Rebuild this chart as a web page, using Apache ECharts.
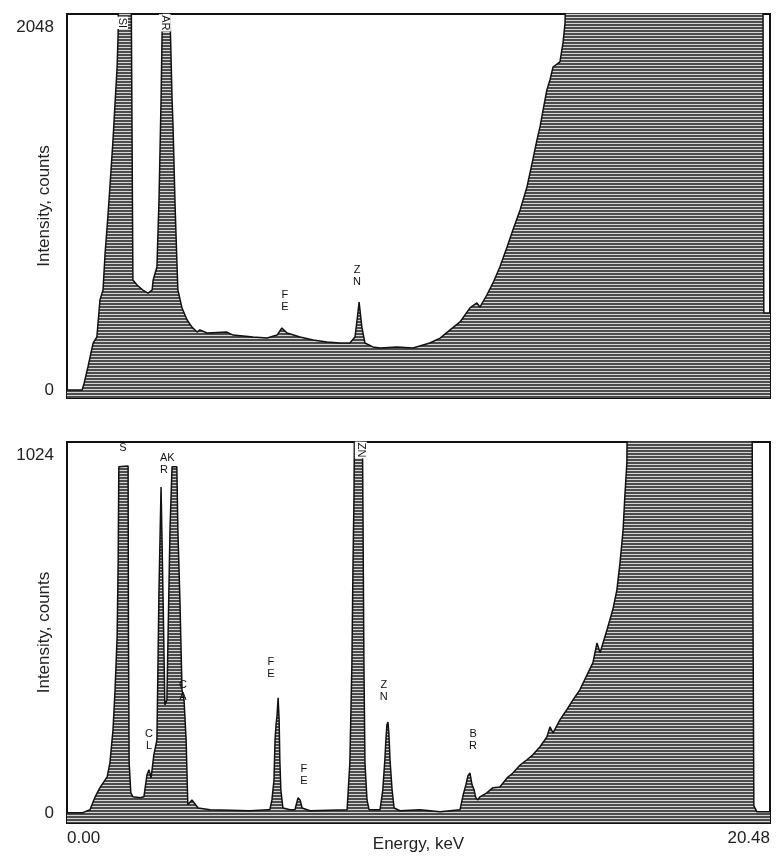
<!DOCTYPE html>
<html>
<head>
<meta charset="utf-8">
<title>XRF spectra</title>
<script src="https://cdn.jsdelivr.net/npm/echarts@6.0.0/dist/echarts.min.js"></script>
<style>
  html, body { margin: 0; padding: 0; background: #fff; }
  #chart { width: 781px; height: 858px; }
</style>
</head>
<body>
<div id="chart"></div>
<script>
// energy axis, keV
const energyTicks = [0, 20.48];

// upper spectrum (0 - 2048 counts)
const topEnergy = [
  0.00, 0.44, 0.50, 0.61, 0.76, 0.87, 0.96, 1.05, 1.11, 1.19,
  1.25, 1.34, 1.40, 1.46, 1.49, 1.51, 1.86, 1.92, 2.04, 2.21,
  2.36, 2.48, 2.51, 2.62, 2.68, 2.74, 2.77, 2.80, 2.94, 3.06,
  3.09, 3.15, 3.20, 3.23, 3.35, 3.50, 3.64, 3.79, 3.87, 4.08,
  4.66, 4.84, 5.42, 5.83, 6.12, 6.26, 6.41, 6.79, 7.17, 7.57,
  7.95, 8.24, 8.39, 8.45, 8.51, 8.59, 8.68, 8.91, 9.12, 9.61,
  10.08, 10.57, 10.87, 11.16, 11.45, 11.74, 11.94, 12.03, 12.23, 12.41,
  12.61, 12.82, 12.99, 13.20, 13.40, 13.57, 13.69, 13.78, 13.87, 13.98,
  14.07, 14.16, 14.36, 14.45, 14.51, 14.56, 20.27, 20.30, 20.48
];
const topCounts = [
  0, 0, 39, 130, 265, 299, 508, 564, 773, 976,
  1145, 1410, 1619, 1822, 2014, 2600, 2600, 621, 592, 564,
  547, 564, 621, 694, 1072, 1636, 2014, 2600, 2600, 1647,
  1484, 1032, 733, 564, 463, 395, 355, 327, 339, 322,
  327, 310, 299, 293, 310, 350, 322, 299, 282, 271,
  265, 265, 299, 395, 496, 355, 265, 243, 237, 243,
  237, 265, 293, 339, 384, 463, 491, 468, 536, 604,
  694, 807, 903, 1016, 1145, 1298, 1410, 1484, 1580, 1693,
  1749, 1822, 1851, 1958, 2071, 2600, 2600, 434, 434
];
const topTicks = [0, 2048];
const topPeaks = ['SI', 'AR', 'F\nE', 'Z\nN'];
const topPeakEnergy = [1.60, 2.85, 6.35, 8.45];
const topPeakCounts = [2071, 2071, 502, 643];

// lower spectrum (0 - 1024 counts)
const bottomEnergy = [
  0.00, 0.44, 0.47, 0.67, 0.82, 0.96, 1.17, 1.25, 1.34, 1.40,
  1.46, 1.49, 1.51, 1.78, 1.79, 1.81, 1.86, 1.92, 2.13, 2.24,
  2.33, 2.39, 2.45, 2.53, 2.62, 2.68, 2.74, 2.77, 2.80, 2.85,
  2.91, 3.00, 3.06, 3.20, 3.23, 3.29, 3.35, 3.41, 3.47, 3.52,
  3.64, 3.82, 4.17, 5.33, 5.85, 5.91, 5.97, 6.03, 6.06, 6.09,
  6.12, 6.15, 6.18, 6.20, 6.23, 6.29, 6.50, 6.64, 6.73, 6.79,
  6.85, 7.08, 8.16, 8.21, 8.24, 8.30, 8.33, 8.36, 8.39, 8.59,
  8.62, 8.65, 8.68, 8.74, 8.80, 9.12, 9.20, 9.26, 9.29, 9.32,
  9.35, 9.38, 9.41, 9.47, 9.53, 9.70, 10.28, 10.87, 11.45, 11.54,
  11.62, 11.68, 11.74, 11.80, 11.86, 11.91, 11.97, 12.03, 12.23, 12.41,
  12.61, 12.82, 12.99, 13.20, 13.40, 13.57, 13.78, 13.98, 14.07, 14.16,
  14.36, 14.56, 14.74, 14.94, 15.15, 15.32, 15.44, 15.53, 15.73, 15.90,
  16.02, 16.11, 16.20, 16.25, 16.31, 16.34, 19.95, 20.01, 20.10, 20.48
];
const bottomCounts = [
  0, 0, 0, 9, 46, 72, 103, 143, 237, 352,
  503, 715, 990, 992, 523, 143, 57, 46, 43, 46,
  109, 123, 100, 166, 209, 638, 932, 932, 609, 309,
  323, 809, 990, 990, 809, 609, 352, 323, 209, 23,
  37, 14, 9, 6, 9, 9, 37, 94, 209, 252,
  280, 329, 266, 152, 66, 14, 9, 9, 43, 37,
  14, 6, 9, 94, 143, 429, 695, 904, 1300, 1300,
  895, 429, 143, 37, 9, 9, 66, 152, 209, 252,
  260, 223, 152, 66, 14, 6, 9, 3, 9, 51,
  80, 106, 114, 80, 66, 43, 37, 46, 57, 72,
  74, 100, 114, 137, 152, 166, 189, 217, 246, 229,
  266, 295, 323, 352, 395, 429, 486, 458, 523, 581,
  638, 715, 809, 904, 1001, 1300, 1300, 20, 3, 3
];
const bottomTicks = [0, 1024];
const bottomPeaks = ['S', 'AK\nR', 'C\nL', 'C\nA', 'F\nE', 'F\nE', 'ZN', 'Z\nN', 'B\nR'];
const bottomPeakEnergy = [1.63, 2.71, 2.39, 3.38, 5.94, 6.90, 8.56, 9.23, 11.83];
const bottomPeakCounts = [1044, 998, 209, 349, 415, 109, 1038, 349, 209];

const font = '"Liberation Sans", Arial, sans-serif';
const ink = '#111';

// grey fill with horizontal streaks, like the plotter shading
const makeHatch = () => {
    const c = document.createElement('canvas');
    c.width = 8;
    c.height = 3;
    const ctx = c.getContext('2d');
    ctx.fillStyle = '#4c4c4c';
    ctx.fillRect(0, 0, 8, 2);
    ctx.fillStyle = '#d6d6d6';
    ctx.fillRect(0, 2, 8, 1);
    return c;
};
const hatch = makeHatch();

const peakMarks = (names, es, cs) => names.map((n, i) => {
    let item = { name: n, coord: [es[i], cs[i]] };
    if (n.indexOf('\n') < 0 && n.length > 1) {
        item.label = { rotate: -90, backgroundColor: '#fff', padding: [0, 1] };
    }
    if (n === 'AK\nR') item.label = { align: 'left' };
    return item;
});

const spectrum = (idx, es, cs, names, pe, pc) => ({
    type: 'line',
    xAxisIndex: idx,
    yAxisIndex: idx,
    data: es.map((e, i) => [e, cs[i]]),
    symbol: 'none',
    clip: true,
    lineStyle: { color: ink, width: 1.5 },
    areaStyle: { origin: 'start', color: { image: hatch, repeat: 'repeat' }, opacity: 1 },
    markPoint: {
        symbol: 'rect',
        symbolSize: 1,
        itemStyle: { color: 'rgba(0,0,0,0)' },
        label: {
            show: true,
            position: 'inside',
            formatter: '{b}',
            color: ink,
            fontFamily: font,
            fontSize: 11,
            lineHeight: 12
        },
        data: peakMarks(names, pe, pc)
    }
});

const yAxisFor = (idx, min, max, ticks) => ({
    gridIndex: idx,
    type: 'value',
    min: min,
    max: max,
    name: 'Intensity, counts',
    nameLocation: 'middle',
    nameGap: 14,
    nameMoveOverlap: false,
    nameTextStyle: { color: '#222', fontFamily: font, fontSize: 17 },
    axisLine: { show: false },
    axisTick: { show: false },
    splitLine: { show: false },
    axisLabel: {
        customValues: ticks,
        formatter: v => String(v),
        margin: 13,
        color: '#222',
        fontFamily: font,
        fontSize: 17
    }
});

const myChart = echarts.init(document.getElementById('chart'));

let option = {
    animation: false,
    backgroundColor: '#fff',
    grid: [
        { left: 67, top: 14, width: 703, height: 384, outerBoundsMode: 'none', show: true, borderColor: ink, borderWidth: 2 },
        { left: 67, top: 442, width: 703, height: 381, outerBoundsMode: 'none', show: true, borderColor: ink, borderWidth: 2 }
    ],
    xAxis: [
        {
            gridIndex: 0, type: 'value', min: energyTicks[0], max: energyTicks[1],
            axisLine: { show: false }, axisTick: { show: false },
            axisLabel: { show: false }, splitLine: { show: false }
        },
        {
            gridIndex: 1, type: 'value', min: energyTicks[0], max: energyTicks[1],
            interval: energyTicks[1] - energyTicks[0],
            name: 'Energy, keV',
            nameLocation: 'middle',
            nameGap: 13,
            nameMoveOverlap: false,
            nameTextStyle: { color: '#222', fontFamily: font, fontSize: 17 },
            axisLine: { show: false }, axisTick: { show: false }, splitLine: { show: false },
            axisLabel: {
                formatter: v => v.toFixed(2),
                margin: 7,
                alignMinLabel: 'left',
                alignMaxLabel: 'right',
                color: '#222',
                fontFamily: font,
                fontSize: 17
            }
        }
    ],
    yAxis: [
        yAxisFor(0, -45, 2121, topTicks),
        yAxisFor(1, -29, 1061, bottomTicks)
    ],
    series: [
        spectrum(0, topEnergy, topCounts, topPeaks, topPeakEnergy, topPeakCounts),
        spectrum(1, bottomEnergy, bottomCounts, bottomPeaks, bottomPeakEnergy, bottomPeakCounts)
    ]
};

myChart.setOption(option);
</script>
</body>
</html>
